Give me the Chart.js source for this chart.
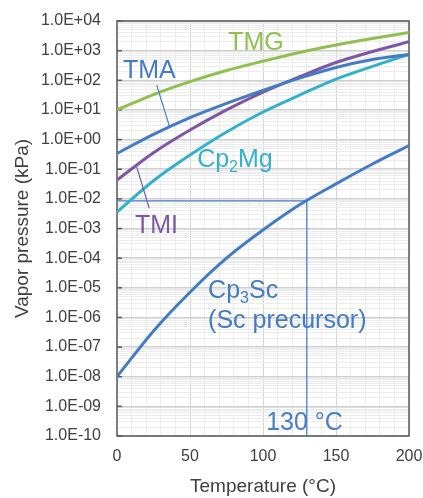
<!DOCTYPE html>
<html><head><meta charset="utf-8">
<script src="https://cdn.jsdelivr.net/npm/chart.js@4.4.1/dist/chart.umd.min.js"></script>
<style>html,body{margin:0;padding:0;background:#fff;}#wrap{width:423px;height:498px;position:relative;}</style>
</head><body><div id="wrap"><canvas id="c"></canvas></div>
<script>
// ---- data ----
const temperatures = [0, 25, 50, 75, 100, 125, 150, 175, 200];          // °C
const TMG   = [10, 33, 90, 214, 440, 871, 1550, 2570, 4070];            // kPa
const TMA   = [0.34, 1.5, 5.5, 16.6, 45.7, 118, 270, 501, 741];
const TMI   = [0.043, 0.36, 2.1, 10, 40, 132, 398, 933, 1995];
const Cp2Mg = [0.0036, 0.041, 0.30, 1.8, 8.5, 31.6, 110, 295, 741];
const Cp3Sc = [1.0e-8, 3.5e-7, 7.1e-6, 1.0e-4, 8.9e-4, 6.3e-3, 3.2e-2, 0.15, 0.63];
const refX  = [0, 130, 130];
const refY  = [0.0085, 0.0085, 1e-10];
const xTickLabels = ['0', '50', '100', '150', '200'];
const yTickLabels = ['1.0E-10','1.0E-09','1.0E-08','1.0E-07','1.0E-06','1.0E-05','1.0E-04',
                     '1.0E-03','1.0E-02','1.0E-01','1.0E+00','1.0E+01','1.0E+02','1.0E+03','1.0E+04'];

// ---- styles ----
const C_TMG = '#8fc04f', C_TMA = '#437bc5', C_TMI = '#7d56a6', C_CP2 = '#33b1cc', C_CP3 = '#437bc5', C_REF = '#4a7ec8';
const FONT = '"Liberation Sans", Arial, sans-serif';
Chart.defaults.font.family = FONT;

const pts = arr => temperatures.map((t, i) => ({x: t, y: arr[i]}));
const curve = (label, arr, color) => ({label, data: pts(arr), borderColor: color, backgroundColor: color,
  borderWidth: 3, pointRadius: 0, cubicInterpolationMode: 'monotone', fill: false});

// annotation anchors in data coordinates (x = °C, y = kPa)
const labels = [
  {parts: [['TMG', 0]], color: C_TMG, x: 76.2, y: 1047},
  {parts: [['TMA', 0]], color: C_TMA, x: 4.1, y: 119},
  {parts: [['Cp', 0], ['2', 1], ['Mg', 0]], color: C_CP2, x: 54.9, y: 0.117},
  {parts: [['TMI', 0]], color: C_TMI, x: 12.3, y: 0.00069},
  {parts: [['Cp', 0], ['3', 1], ['Sc', 0]], color: C_CP3, x: 62.4, y: 4.5e-6},
  {parts: [['(Sc precursor)', 0]], color: C_CP3, x: 62.4, y: 4.4e-7},
  {parts: [['130 °C', 0]], color: C_REF, x: 102.2, y: 1.55e-10}
];
const leaders = [
  {color: C_TMA, from: [27.2, 69], to: [35.9, 2.85]},
  {color: C_TMI, from: [13.5, 0.12], to: [22.1, 0.0048]}
];

const isDecade = v => { const e = Math.log10(v); return Math.abs(e - Math.round(e)) < 1e-7; };

const overlay = {
  id: 'overlay',
  beforeDatasetsDraw(chart) {
    const {ctx, chartArea: a, scales: {y}} = chart;
    ctx.save();
    ctx.strokeStyle = '#595959'; ctx.lineWidth = 1.5;
    ctx.strokeRect(a.left, a.top, a.right - a.left, a.bottom - a.top);
    for (let e = -10; e <= 4; e++) {
      const py = y.getPixelForValue(Math.pow(10, e));
      ctx.beginPath(); ctx.moveTo(a.left, py); ctx.lineTo(a.left + 5, py); ctx.stroke();
    }
    ctx.restore();
  },
  afterDatasetsDraw(chart) {
    const {ctx, scales: {x, y}} = chart;
    ctx.save();
    leaders.forEach(l => {
      ctx.strokeStyle = l.color; ctx.lineWidth = 1.2;
      ctx.beginPath();
      ctx.moveTo(x.getPixelForValue(l.from[0]), y.getPixelForValue(l.from[1]));
      ctx.lineTo(x.getPixelForValue(l.to[0]), y.getPixelForValue(l.to[1]));
      ctx.stroke();
    });
    ctx.textBaseline = 'alphabetic'; ctx.textAlign = 'left';
    labels.forEach(l => {
      let px = x.getPixelForValue(l.x);
      const py = y.getPixelForValue(l.y);
      ctx.fillStyle = l.color;
      l.parts.forEach(([t, sub]) => {
        ctx.font = (sub ? '16px ' : '25px ') + FONT;
        ctx.fillText(t, px, py + (sub ? 5 : 0));
        px += ctx.measureText(t).width;
      });
    });
    ctx.restore();
  }
};

new Chart(document.getElementById('c'), {
  type: 'line',
  data: {
    datasets: [
      curve('TMG', TMG, C_TMG),
      curve('TMA', TMA, C_TMA),
      curve('TMI', TMI, C_TMI),
      curve('Cp2Mg', Cp2Mg, C_CP2),
      curve('Cp3Sc', Cp3Sc, C_CP3),
      {label: '130 °C', data: refX.map((v, i) => ({x: v, y: refY[i]})), borderColor: C_REF,
       borderWidth: 1.3, pointRadius: 0, tension: 0, fill: false}
    ]
  },
  options: {
    responsive: true, maintainAspectRatio: false, animation: false,
    layout: {padding: {top: 21, right: 14, left: 0, bottom: 0}},
    plugins: {legend: {display: false}, tooltip: {enabled: false}},
    scales: {
      x: {
        type: 'linear', min: 0, max: 200,
        afterFit: s => { s.height = 62; },
        ticks: {stepSize: 10, autoSkip: false, maxRotation: 0, padding: 0, color: '#404040',
                font: {size: 16}, callback: v => xTickLabels.includes(String(v)) ? String(v) : ''},
        grid: {drawTicks: true, tickLength: 11, tickColor: 'rgba(0,0,0,0)',
               color: c => (c.tick && c.tick.value % 50 === 0) ? '#d4d4d4' : '#ececec', lineWidth: 1},
        border: {display: false},
        title: {display: true, text: 'Temperature (°C)', color: '#404040', font: {size: 19, lineHeight: 1}, padding: {top: 0, bottom: 1.5}}
      },
      y: {
        type: 'logarithmic', min: 1e-10, max: 1e4,
        afterBuildTicks: s => {
          const t = [];
          for (let e = -10; e <= 4; e++) for (let m = 1; m <= 9; m++) {
            if (e === 4 && m > 1) break;
            t.push({value: m * Math.pow(10, e)});
          }
          s.ticks = t;
        },
        afterFit: s => { s.width = 117; },
        ticks: {autoSkip: false, padding: 0, color: '#404040', font: {size: 16},
                callback: v => isDecade(v) ? yTickLabels[Math.round(Math.log10(v)) + 10] : ''},
        grid: {drawTicks: true, tickLength: 16, tickColor: 'rgba(0,0,0,0)',
               color: c => (c.tick && isDecade(c.tick.value)) ? '#d0d0d0' : '#ececec',
               lineWidth: c => (c.tick && isDecade(c.tick.value)) ? 1.5 : 1},
        border: {display: false},
        title: {display: true, text: 'Vapor pressure (kPa)', color: '#404040', font: {size: 19, lineHeight: 1}, padding: {top: 13.5, bottom: 0}}
      }
    }
  },
  plugins: [overlay]
});
</script></body></html>
